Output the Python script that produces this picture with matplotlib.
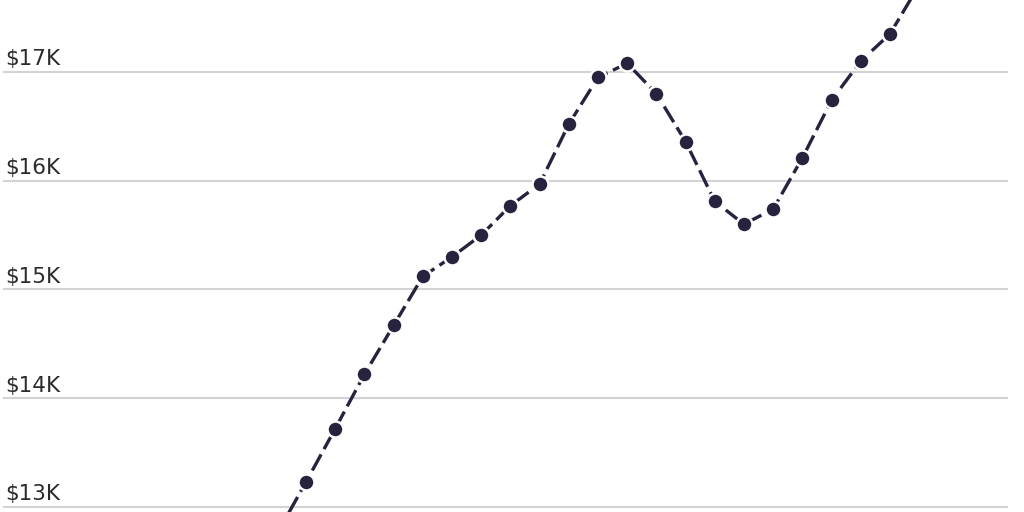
import matplotlib
matplotlib.use("Agg")
import matplotlib.pyplot as plt
import matplotlib.transforms as mtransforms

# values in thousands of dollars, one per period (first and last run off the chart)
periods = list(range(23))
values = [12.75, 13.23, 13.72, 14.22, 14.67, 15.12, 15.30, 15.50, 15.77, 15.97,
          16.52, 16.95, 17.08, 16.80, 16.36, 15.81, 15.60, 15.74, 16.21, 16.74,
          17.10, 17.35, 17.80]
tick_values = [13, 14, 15, 16, 17]
tick_labels = ["$13K", "$14K", "$15K", "$16K", "$17K"]

line_color = "#27233f"
grid_color = "#d3d3d3"
text_color = "#2b2b2b"

fig = plt.figure(figsize=(10.24, 5.12), dpi=100)
ax = fig.add_axes([0, 0, 1, 1])
ax.set_axis_off()

ax.set_xlim(-9.48, 25.59)
ax.set_ylim(12.954, 17.662)

# gridlines + labels
trans = mtransforms.blended_transform_factory(ax.transAxes, ax.transData)
for v, lab in zip(tick_values, tick_labels):
    ax.axhline(v, xmin=4 / 1024, xmax=1007 / 1024, color=grid_color, lw=1.5, zorder=1)
    ax.text(5 / 1024, v + 0.06, lab, transform=trans, ha="left", va="baseline",
            fontsize=15.5, color=text_color, family="DejaVu Sans")

ax.plot(periods, values, color=line_color, lw=2.4, dashes=(5.5, 1.8),
        dash_capstyle="butt", marker="o", markersize=11.5,
        markerfacecolor=line_color, markeredgecolor="white", markeredgewidth=1.8,
        zorder=3, clip_on=True)

fig.savefig("out.png", dpi=100)
